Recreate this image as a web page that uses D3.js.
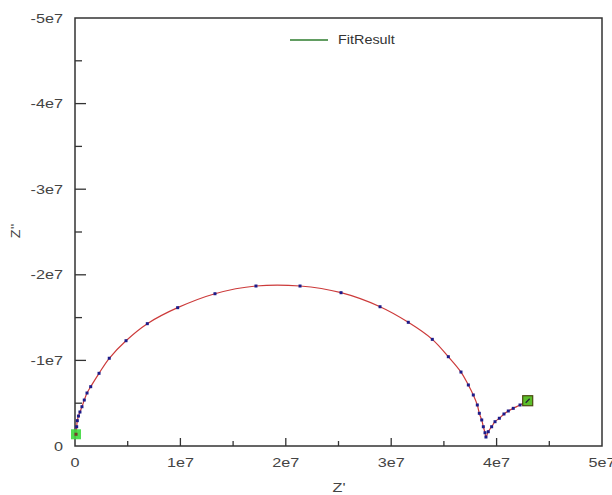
<!DOCTYPE html>
<html>
<head>
<meta charset="utf-8">
<script src="https://cdnjs.cloudflare.com/ajax/libs/d3/7.8.5/d3.min.js"></script>
<style>
  html, body { margin: 0; padding: 0; background: #fff; }
  svg { display: block; font-family: "Liberation Sans", Arial, sans-serif; }
</style>
</head>
<body>
<svg id="chart" width="612" height="495"></svg>
<script>
// Impedance spectrum: real part Z' and imaginary part Z'' (ohm)
const zReal = [
  0.0095e7, 0.016e7, 0.022e7, 0.033e7, 0.047e7, 0.066e7, 0.088e7, 0.114e7, 0.149e7,
  0.228e7, 0.325e7, 0.484e7, 0.686e7, 0.974e7, 1.328e7, 1.717e7, 2.135e7, 2.524e7,
  2.894e7, 3.162e7, 3.390e7, 3.542e7, 3.662e7, 3.732e7, 3.779e7, 3.817e7, 3.836e7,
  3.859e7, 3.874e7, 3.890e7, 3.899e7, 3.921e7, 3.953e7, 3.985e7, 4.026e7, 4.070e7,
  4.111e7, 4.158e7, 4.222e7, 4.295e7
];
const zImag = [
  -0.137e7, -0.225e7, -0.296e7, -0.350e7, -0.397e7, -0.459e7, -0.537e7, -0.619e7, -0.693e7,
  -0.849e7, -1.025e7, -1.230e7, -1.429e7, -1.616e7, -1.779e7, -1.869e7, -1.869e7, -1.791e7,
  -1.627e7, -1.445e7, -1.246e7, -1.043e7, -0.864e7, -0.713e7, -0.596e7, -0.479e7, -0.382e7,
  -0.304e7, -0.225e7, -0.155e7, -0.105e7, -0.167e7, -0.225e7, -0.284e7, -0.324e7, -0.374e7,
  -0.409e7, -0.440e7, -0.479e7, -0.529e7
];
const xTickLabels = ["0", "1e7", "2e7", "3e7", "4e7", "5e7"];
const yTickLabels = ["0", "-1e7", "-2e7", "-3e7", "-4e7", "-5e7"];
const legendLabel = "FitResult";

const svg = d3.select("#chart");
const plotLeft = 75, plotRight = 602, plotTop = 18, plotBottom = 446;

const x = d3.scaleLinear().domain([0, 5e7]).range([plotLeft, plotRight]);
const y = d3.scaleLinear().domain([0, -5e7]).range([plotBottom, plotTop]);

const axisColor = "#333";
const textColor = "#444";
const stretch = 1.35; // labels are set in a wide face

// Frame
svg.append("rect")
  .attr("x", plotLeft).attr("y", plotTop)
  .attr("width", plotRight - plotLeft).attr("height", plotBottom - plotTop)
  .attr("fill", "none").attr("stroke", axisColor).attr("stroke-width", 1.5);

// Major and minor ticks (inward)
const xMajor = d3.range(0, 6).map(i => i * 1e7);
const xMinor = d3.range(0, 5).map(i => i * 1e7 + 0.5e7);
const yMajor = d3.range(0, 6).map(i => -i * 1e7);
const yMinor = d3.range(0, 5).map(i => -i * 1e7 - 0.5e7);

const ticks = svg.append("g").attr("stroke", axisColor).attr("stroke-width", 1.3);
xMajor.slice(1, 5).forEach(v => ticks.append("line")
  .attr("x1", x(v)).attr("x2", x(v)).attr("y1", plotBottom).attr("y2", plotBottom - 8));
xMinor.forEach(v => ticks.append("line")
  .attr("x1", x(v)).attr("x2", x(v)).attr("y1", plotBottom).attr("y2", plotBottom - 5));
yMajor.slice(1, 5).forEach(v => ticks.append("line")
  .attr("x1", plotLeft).attr("x2", plotLeft + 11).attr("y1", y(v)).attr("y2", y(v)));
yMinor.forEach(v => ticks.append("line")
  .attr("x1", plotLeft).attr("x2", plotLeft + 7).attr("y1", y(v)).attr("y2", y(v)));

// Tick labels
svg.append("g").selectAll("text").data(xMajor).join("text")
  .attr("transform", d => `translate(${x(d)},${plotBottom + 21}) scale(${stretch},1)`)
  .attr("text-anchor", "middle").attr("font-size", 12).attr("fill", textColor)
  .text((d, i) => xTickLabels[i]);
svg.append("g").selectAll("text").data(yMajor).join("text")
  .attr("transform", d => `translate(${plotLeft - 12},${y(d) + 4.5}) scale(${stretch},1)`)
  .attr("text-anchor", "end").attr("font-size", 12).attr("fill", textColor)
  .text((d, i) => yTickLabels[i]);

// Axis titles
svg.append("text").attr("transform", `translate(339,492) scale(${stretch},1)`)
  .attr("text-anchor", "middle").attr("font-size", 12).attr("fill", textColor).text("Z'");
svg.append("text").attr("transform", "translate(20,231) rotate(-90) scale(1.2,1)")
  .attr("text-anchor", "middle").attr("font-size", 12).attr("fill", textColor).text("Z''");

const pts = zReal.map((v, i) => [v, zImag[i]]);

// Fitted curve
svg.append("path")
  .datum(pts)
  .attr("fill", "none").attr("stroke", "#cc3a3a").attr("stroke-width", 1.2)
  .attr("d", d3.line().x(d => x(d[0])).y(d => y(d[1])).curve(d3.curveCatmullRom));

// Measured points
svg.append("g").selectAll("rect").data(pts).join("rect")
  .attr("x", d => x(d[0]) - 1.5).attr("y", d => y(d[1]) - 1.5)
  .attr("width", 3).attr("height", 3).attr("fill", "#1c1c8a");

// Start / end markers
const first = pts[0], last = pts[pts.length - 1];
svg.append("rect")
  .attr("x", x(first[0]) - 5).attr("y", y(first[1]) - 5)
  .attr("width", 10).attr("height", 10)
  .attr("fill", "#3fd83f").attr("opacity", 0.9);
svg.append("rect")
  .attr("x", x(first[0]) - 1.5).attr("y", y(first[1]) - 1.5)
  .attr("width", 3).attr("height", 3).attr("fill", "#7a3a2a");
svg.append("rect")
  .attr("x", x(last[0]) - 5).attr("y", y(last[1]) - 5)
  .attr("width", 10).attr("height", 10)
  .attr("fill", "#5cbf2a").attr("stroke", "#4a4a10").attr("stroke-width", 1.2);
svg.append("line")
  .attr("x1", x(last[0]) - 2).attr("y1", y(last[1]) + 2)
  .attr("x2", x(last[0]) + 2).attr("y2", y(last[1]) - 2)
  .attr("stroke", "#223").attr("stroke-width", 1.2);

// Legend
svg.append("line").attr("x1", 290).attr("x2", 328).attr("y1", 40).attr("y2", 40)
  .attr("stroke", "#2e7d2e").attr("stroke-width", 1.3);
svg.append("text").attr("transform", "translate(338,44) scale(1.2,1)")
  .attr("font-size", 12).attr("fill", "#333").text(legendLabel);
</script>
</body>
</html>
